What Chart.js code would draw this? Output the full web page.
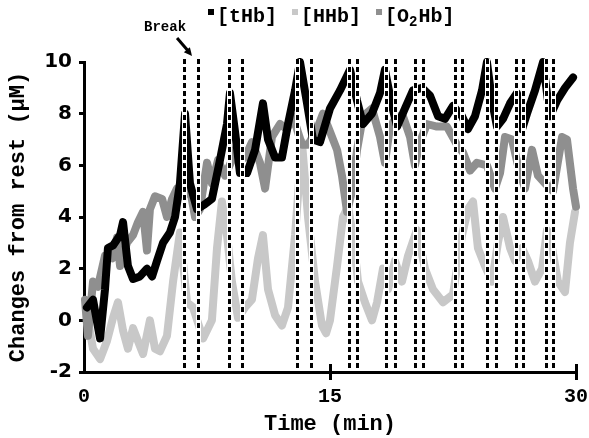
<!DOCTYPE html>
<html>
<head>
<meta charset="utf-8">
<script src="https://cdn.jsdelivr.net/npm/chart.js@4.4.1/dist/chart.umd.min.js"></script>
<style>
  html, body { margin: 0; padding: 0; background: #fff; }
  #wrap { width: 589px; height: 438px; }
</style>
</head>
<body>
<div id="wrap"><canvas id="nirs" width="589" height="438"></canvas></div>
<script>
// time (min) and change from rest (uM) for each chromophore
const tHbTime = [0.18, 0.55, 0.98, 1.28, 1.46, 1.77, 2.20, 2.38, 2.68, 2.99,
  3.41, 3.84, 4.15, 4.45, 4.82, 5.24, 5.55, 5.85, 6.16, 6.46,
  6.89, 7.38, 7.80, 8.29, 8.72, 8.90, 9.21, 9.51, 9.94, 10.43,
  10.91, 11.22, 11.65, 12.07, 12.44, 12.87, 13.17, 13.60, 13.96, 14.39,
  15.00, 15.61, 16.22, 16.65, 17.01, 17.56, 18.05, 18.35, 18.78, 19.09,
  19.57, 20.06, 20.61, 21.10, 21.59, 22.01, 22.50, 23.05, 23.41, 23.84,
  24.27, 24.57, 24.88, 25.18, 25.55, 25.98, 26.40, 26.71, 27.01, 27.50,
  27.99, 28.41, 28.84, 29.33, 29.82];
const tHbValues = [0.5, 0.8, -0.7, 1.2, 2.8, 2.9, 3.3, 3.8, 2.1, 1.6,
  1.7, 2.0, 1.7, 2.3, 3.0, 3.4, 4.0, 5.3, 8.0, 5.3,
  4.3, 4.5, 4.7, 6.2, 7.6, 8.8, 7.3, 5.7, 5.7, 6.6,
  8.4, 7.0, 6.3, 6.3, 7.6, 8.9, 10.0, 8.4, 7.0, 6.9,
  8.2, 8.9, 9.7, 8.5, 7.6, 8.0, 8.8, 9.7, 8.3, 7.5,
  8.2, 8.9, 9.0, 8.7, 7.9, 7.8, 8.3, 7.9, 7.4, 7.9,
  8.9, 10.0, 8.5, 7.5, 7.8, 8.4, 8.8, 7.4, 8.0, 8.9,
  10.0, 7.9, 8.5, 9.0, 9.4];

const hhbTime = [0.18, 0.55, 0.98, 1.40, 1.77, 2.07, 2.38, 2.68, 2.99, 3.29,
  3.60, 4.02, 4.33, 4.63, 5.06, 5.43, 5.85, 6.28, 6.65, 7.26,
  7.80, 8.11, 8.41, 8.72, 9.02, 9.39, 9.82, 10.24, 10.61, 10.91,
  11.22, 11.65, 12.07, 12.44, 12.87, 13.29, 13.66, 14.09, 14.51, 14.76,
  15.00, 15.43, 15.79, 16.10, 16.40, 16.71, 17.13, 17.56, 17.87, 18.23,
  18.54, 18.96, 19.39, 19.76, 20.30, 20.79, 21.28, 21.89, 22.50, 23.05,
  23.41, 23.72, 24.02, 24.45, 24.88, 25.24, 25.55, 25.98, 26.28, 26.71,
  27.07, 27.50, 27.93, 28.23, 28.54, 28.90, 29.33, 29.63, 29.94];
const hhbValues = [0.2, -1.1, -1.5, -0.8, 0.1, 0.7, -0.4, -1.1, -0.3, -0.8,
  -1.3, 0.0, -1.1, -1.2, -0.6, 1.5, 3.4, 0.7, 0.5, -0.7,
  0.0, 2.8, 4.6, 3.3, 1.5, 0.1, 0.5, 0.8, 2.4, 3.3,
  1.2, 0.2, -0.2, 0.5, 3.3, 6.9, 4.0, 1.5, -0.2, -0.5,
  0.0, 2.1, 4.0, 4.4, 3.3, 1.5, 0.7, 0.0, 0.7, 2.0,
  1.2, 2.3, 1.5, 2.5, 3.5, 2.0, 1.2, 0.7, 1.0, 3.3,
  4.3, 4.6, 2.8, 2.1, 1.5, 3.0, 4.0, 2.8, 2.3, 2.8,
  2.3, 1.5, 2.0, 3.5, 2.8, 1.5, 1.1, 3.0, 4.2];

const o2hbTime = [0.06, 0.24, 0.55, 0.85, 1.28, 1.71, 2.01, 2.20, 2.62, 2.99,
  3.29, 3.60, 3.84, 4.02, 4.33, 4.76, 5.06, 5.37, 5.67, 6.04,
  6.46, 6.77, 7.07, 7.50, 7.80, 8.17, 8.60, 9.02, 9.39, 9.82,
  10.24, 10.73, 11.04, 11.46, 11.95, 12.38, 12.74, 13.29, 13.66, 14.21,
  14.57, 15.00, 15.43, 15.73, 16.04, 16.34, 16.65, 17.01, 17.56, 18.05,
  18.35, 18.66, 19.09, 19.45, 19.88, 20.18, 20.49, 20.91, 21.52, 22.13,
  22.74, 23.11, 23.54, 23.96, 24.57, 25.06, 25.37, 25.67, 26.10, 26.46,
  26.89, 27.32, 27.68, 28.11, 28.60, 29.15, 29.45, 29.82, 30.00];
const o2hbValues = [0.8, -0.6, 1.5, 1.3, 2.5, 2.4, 3.2, 2.1, 3.0, 3.3,
  3.8, 4.2, 2.7, 4.3, 4.8, 4.7, 4.0, 4.7, 5.1, 4.8,
  5.1, 4.0, 4.3, 6.1, 5.3, 6.2, 5.6, 6.2, 6.9, 6.3,
  6.9, 6.1, 5.1, 7.1, 7.6, 7.4, 7.9, 6.8, 6.8, 7.4,
  8.0, 7.3, 6.6, 5.6, 4.2, 5.0, 6.6, 7.9, 8.2, 7.1,
  6.1, 7.5, 7.9, 7.9, 7.1, 6.0, 6.9, 7.6, 7.5, 7.5,
  6.8, 6.5, 5.8, 6.1, 6.0, 5.1, 5.7, 7.1, 7.0, 6.0,
  5.1, 6.6, 5.6, 5.3, 5.0, 7.1, 7.0, 5.1, 4.4];

// start / end of each break (min)
const breakTimes = [6.10, 6.95, 8.84, 9.63, 12.99, 13.84, 16.16, 16.65, 18.41, 18.96,
  20.18, 20.67, 22.62, 23.05, 24.57, 25.12, 26.34, 26.77, 28.17, 28.60];

const xTickValues = [0, 15, 30];
const seriesLabels = ['[tHb]', '[HHb]', '[O2Hb]'];
const seriesColors = ['#000000', '#c8c8c8', '#8f8f8f'];

const MONO = '"Liberation Mono", "Courier New", monospace';

function toPoints(times, values) {
  return times.map((t, i) => ({ x: t, y: values[i] }));
}

// dashed markers for the breaks, ticks crossing the x axis, legend and the "Break" note
const decorations = {
  id: 'decorations',
  afterDatasetsDraw(chart) {
    const { ctx, chartArea, scales: { x } } = chart;
    ctx.save();
    breakTimes.forEach((t) => {
      const px = Math.round(x.getPixelForValue(t)) + 0.5;
      ctx.beginPath();
      ctx.setLineDash([]);
      ctx.strokeStyle = '#fff';
      ctx.lineWidth = 5;
      ctx.moveTo(px, chartArea.top - 3);
      ctx.lineTo(px, chartArea.bottom - 2);
      ctx.stroke();
      ctx.beginPath();
      ctx.setLineDash([5, 3]);
      ctx.strokeStyle = '#000';
      ctx.lineWidth = 3;
      ctx.moveTo(px, chartArea.top - 3);
      ctx.lineTo(px, chartArea.bottom - 2);
      ctx.stroke();
    });
    ctx.restore();
  },
  afterDraw(chart) {
    const { ctx, chartArea, scales: { x } } = chart;
    ctx.save();

    // x ticks cross the axis line
    ctx.strokeStyle = '#000';
    ctx.lineWidth = 3;
    x.ticks.forEach((tk) => {
      if (tk.value === 0) return;
      const px = Math.round(x.getPixelForValue(tk.value)) + 0.5;
      ctx.beginPath();
      ctx.moveTo(px, chartArea.bottom - 8);
      ctx.lineTo(px, chartArea.bottom + 8);
      ctx.stroke();
    });

    // legend: small square sitting high, then the label
    ctx.font = 'bold 20px ' + MONO;
    ctx.textBaseline = 'middle';
    let lx = 208;
    const ly = 17;
    chart.data.datasets.forEach((ds) => {
      ctx.fillStyle = ds.borderColor;
      ctx.fillRect(lx, 9, 6, 6);
      lx += 9;
      ctx.fillStyle = '#000';
      const m = ds.label.match(/^(.*?)(\d)(.*)$/);
      if (m) {
        ctx.fillText(m[1], lx, ly);
        lx += ctx.measureText(m[1]).width;
        ctx.font = 'bold 14px ' + MONO;
        ctx.fillText(m[2], lx, ly + 5);
        lx += ctx.measureText(m[2]).width + 1;
        ctx.font = 'bold 20px ' + MONO;
        ctx.fillText(m[3], lx, ly);
        lx += ctx.measureText(m[3]).width;
      } else {
        ctx.fillText(ds.label, lx, ly);
        lx += ctx.measureText(ds.label).width;
      }
      lx += 15;
    });

    // note and arrow pointing at the first break
    const bx = x.getPixelForValue(breakTimes[0]);
    ctx.font = 'bold 14px ' + MONO;
    ctx.textAlign = 'center';
    ctx.fillText('Break', bx - 19, 27);
    const x0 = bx - 7, y0 = 38, x1 = bx + 8, y1 = chartArea.top - 6;
    ctx.lineWidth = 3;
    ctx.beginPath();
    ctx.moveTo(x0, y0);
    ctx.lineTo(x1 - 3, y1 - 4);
    ctx.stroke();
    const ang = Math.atan2(y1 - y0, x1 - x0);
    ctx.beginPath();
    ctx.moveTo(x1, y1);
    ctx.lineTo(x1 - 9 * Math.cos(ang - 0.45), y1 - 9 * Math.sin(ang - 0.45));
    ctx.lineTo(x1 - 9 * Math.cos(ang + 0.45), y1 - 9 * Math.sin(ang + 0.45));
    ctx.closePath();
    ctx.fill();
    ctx.restore();
  }
};

const lineStyle = {
  borderWidth: 8,
  pointRadius: 0,
  tension: 0,
  fill: false,
  borderJoinStyle: 'round',
  borderCapStyle: 'round',
  clip: 6
};

new Chart(document.getElementById('nirs'), {
  type: 'line',
  data: {
    datasets: [
      { ...lineStyle, label: seriesLabels[0], data: toPoints(tHbTime, tHbValues),
        borderColor: seriesColors[0], backgroundColor: seriesColors[0], order: 0 },
      { ...lineStyle, label: seriesLabels[1], data: toPoints(hhbTime, hhbValues),
        borderColor: seriesColors[1], backgroundColor: seriesColors[1], order: 2 },
      { ...lineStyle, label: seriesLabels[2], data: toPoints(o2hbTime, o2hbValues),
        borderColor: seriesColors[2], backgroundColor: seriesColors[2], order: 1 }
    ]
  },
  options: {
    responsive: false,
    animation: false,
    layout: { padding: { top: 62, left: 0, right: 0, bottom: 0 } },
    plugins: {
      legend: { display: false },
      tooltip: { enabled: false }
    },
    scales: {
      x: {
        type: 'linear',
        min: 0,
        max: 30,
        afterBuildTicks: (scale) => { scale.ticks = xTickValues.map((v) => ({ value: v })); },
        afterFit: (scale) => {
          scale.height = 66;
          // let the "30" label hang into the right margin
          scale.paddingLeft = 0;
          scale.paddingRight = 13;
        },
        grid: { display: false },
        border: { display: true, color: '#000', width: 3 },
        ticks: {
          color: '#000',
          padding: 5,
          font: { family: MONO, size: 20, weight: 'bold' }
        },
        title: {
          display: true,
          text: 'Time (min)',
          color: '#000',
          padding: { top: 0, bottom: 0 },
          font: { family: MONO, size: 22, weight: 'bold' }
        }
      },
      y: {
        min: -2,
        max: 10,
        afterFit: (scale) => { scale.width = 84; },
        grid: {
          drawOnChartArea: false,
          drawTicks: true,
          tickLength: 5,
          tickWidth: 3,
          tickColor: '#000'
        },
        border: { display: true, color: '#000', width: 3 },
        ticks: {
          stepSize: 2,
          color: '#000',
          padding: 7,
          font: { family: '"DejaVu Sans", sans-serif', size: 20, weight: 'bold' }
        },
        title: {
          display: true,
          text: 'Changes from rest (\u03bcM)',
          color: '#000',
          padding: { top: 5, bottom: 0 },
          font: { family: MONO, size: 22, weight: 'bold' }
        }
      }
    }
  },
  plugins: [decorations]
});
</script>
</body>
</html>
